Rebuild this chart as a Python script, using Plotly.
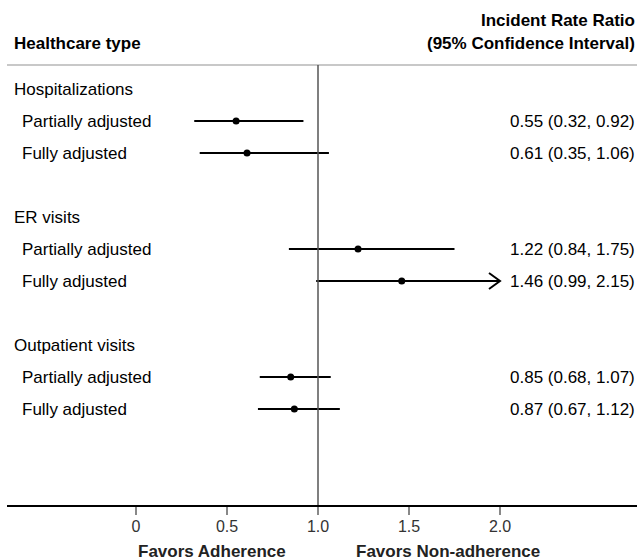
import plotly.graph_objects as go

groups = ["Hospitalizations", "ER visits", "Outpatient visits"]
models = ["Partially adjusted", "Fully adjusted"]
irr = [[0.55, 0.61], [1.22, 1.46], [0.85, 0.87]]
lower = [[0.32, 0.35], [0.84, 0.99], [0.68, 0.67]]
upper = [[0.92, 1.06], [1.75, 2.15], [1.07, 1.12]]
tick_vals = [0, 0.5, 1.0, 1.5, 2.0]
tick_text = ["0", "0.5", "1.0", "1.5", "2.0"]
x_clip = 2.0

W, H = 637, 560
ml, mr, mt, mb = 7, 0, 65, 55
px_per_unit = 182.0
x0_px = 136
xmin = (ml - x0_px) / px_per_unit
xmax = (W - mr - x0_px) / px_per_unit
row_h = 32.0
ymin_row = 1 - (89 - mt) / row_h
ymax_row = ymin_row + (H - mb - mt) / row_h
plot_h = H - mt - mb

FONT = "Liberation Sans, Arial, sans-serif"
FS = 17
fig = go.Figure()
annotations = []


def paper_x(px):
    return (px - ml) / (W - ml - mr)


def paper_y(py):
    return 1 - (py - mt) / plot_h


row = 1
for g, name in enumerate(groups):
    annotations.append(dict(x=paper_x(12), xref="paper", y=row, yref="y", text=name,
                            showarrow=False, xanchor="left", yanchor="middle",
                            font=dict(size=FS, color="black", family=FONT)))
    row += 1
    for m, mname in enumerate(models):
        est, lo, hi = irr[g][m], lower[g][m], upper[g][m]
        annotations.append(dict(x=paper_x(20), xref="paper", y=row, yref="y", text=mname,
                                showarrow=False, xanchor="left", yanchor="middle",
                                font=dict(size=FS, color="black", family=FONT)))
        annotations.append(dict(x=paper_x(637), xref="paper", y=row, yref="y",
                                text=f"{est:.2f} ({lo:.2f}, {hi:.2f})",
                                showarrow=False, xanchor="right", yanchor="middle",
                                font=dict(size=FS, color="black", family=FONT)))
        hi_draw = min(hi, x_clip)
        fig.add_trace(go.Scatter(x=[lo, hi_draw], y=[row, row], mode="lines",
                                 line=dict(color="black", width=2), showlegend=False,
                                 hoverinfo="skip"))
        if hi > x_clip:
            dx = 11 / px_per_unit
            dy = 8 / row_h
            fig.add_trace(go.Scatter(x=[hi_draw - dx, hi_draw, hi_draw - dx],
                                     y=[row - dy, row, row + dy], mode="lines",
                                     line=dict(color="black", width=2), showlegend=False,
                                     hoverinfo="skip"))
        fig.add_trace(go.Scatter(x=[est], y=[row], mode="markers",
                                 marker=dict(color="black", size=7), showlegend=False))
        row += 1
    row += 1

# headers
annotations.append(dict(x=paper_x(12), xref="paper", y=paper_y(44), yref="paper",
                        yanchor="middle", text="<b>Healthcare type</b>", showarrow=False,
                        xanchor="left", font=dict(size=FS, color="black", family=FONT)))
annotations.append(dict(x=paper_x(637), xref="paper", y=paper_y(21), yref="paper",
                        yanchor="middle", text="<b>Incident Rate Ratio</b>", showarrow=False,
                        xanchor="right", font=dict(size=FS, color="black", family=FONT)))
annotations.append(dict(x=paper_x(637), xref="paper", y=paper_y(44), yref="paper",
                        yanchor="middle", text="<b>(95% Confidence Interval)</b>",
                        showarrow=False, xanchor="right",
                        font=dict(size=FS, color="black", family=FONT)))
annotations.append(dict(x=0.418, xref="x", y=paper_y(551.5), yref="paper", yanchor="middle",
                        text="<b>Favors Adherence</b>", showarrow=False, xanchor="center",
                        font=dict(size=FS, color="#222", family=FONT)))
annotations.append(dict(x=1.714, xref="x", y=paper_y(551.5), yref="paper", yanchor="middle",
                        text="<b>Favors Non-adherence</b>", showarrow=False, xanchor="center",
                        font=dict(size=FS, color="#222", family=FONT)))

fig.update_layout(
    width=W, height=H,
    margin=dict(l=ml, r=mr, t=mt, b=mb, pad=0),
    plot_bgcolor="white", paper_bgcolor="white",
    font=dict(family=FONT, size=FS, color="black"),
    xaxis=dict(range=[xmin, xmax], tickvals=tick_vals, ticktext=tick_text,
               showgrid=False, zeroline=False, showline=True, linecolor="black", linewidth=1.5,
               ticks="outside", ticklen=8, tickcolor="#888", tickwidth=1.5,
               ticklabelstandoff=-2,
               tickfont=dict(size=16, color="#333", family=FONT), fixedrange=True),
    yaxis=dict(range=[ymax_row, ymin_row], showgrid=False, zeroline=False,
               showticklabels=False, showline=False, fixedrange=True),
    annotations=annotations,
    shapes=[
        dict(type="line", xref="paper", yref="paper", x0=0, x1=1, y0=1, y1=1,
             line=dict(color="#c8c8c8", width=2)),
        dict(type="line", xref="x", yref="paper", x0=1.0, x1=1.0, y0=0, y1=1,
             line=dict(color="#555", width=1.5)),
    ],
)

fig.write_html(
    "out.html",
    config={"displayModeBar": False},
    post_script="document.body.style.margin='0';document.body.style.overflow='hidden';",
)
